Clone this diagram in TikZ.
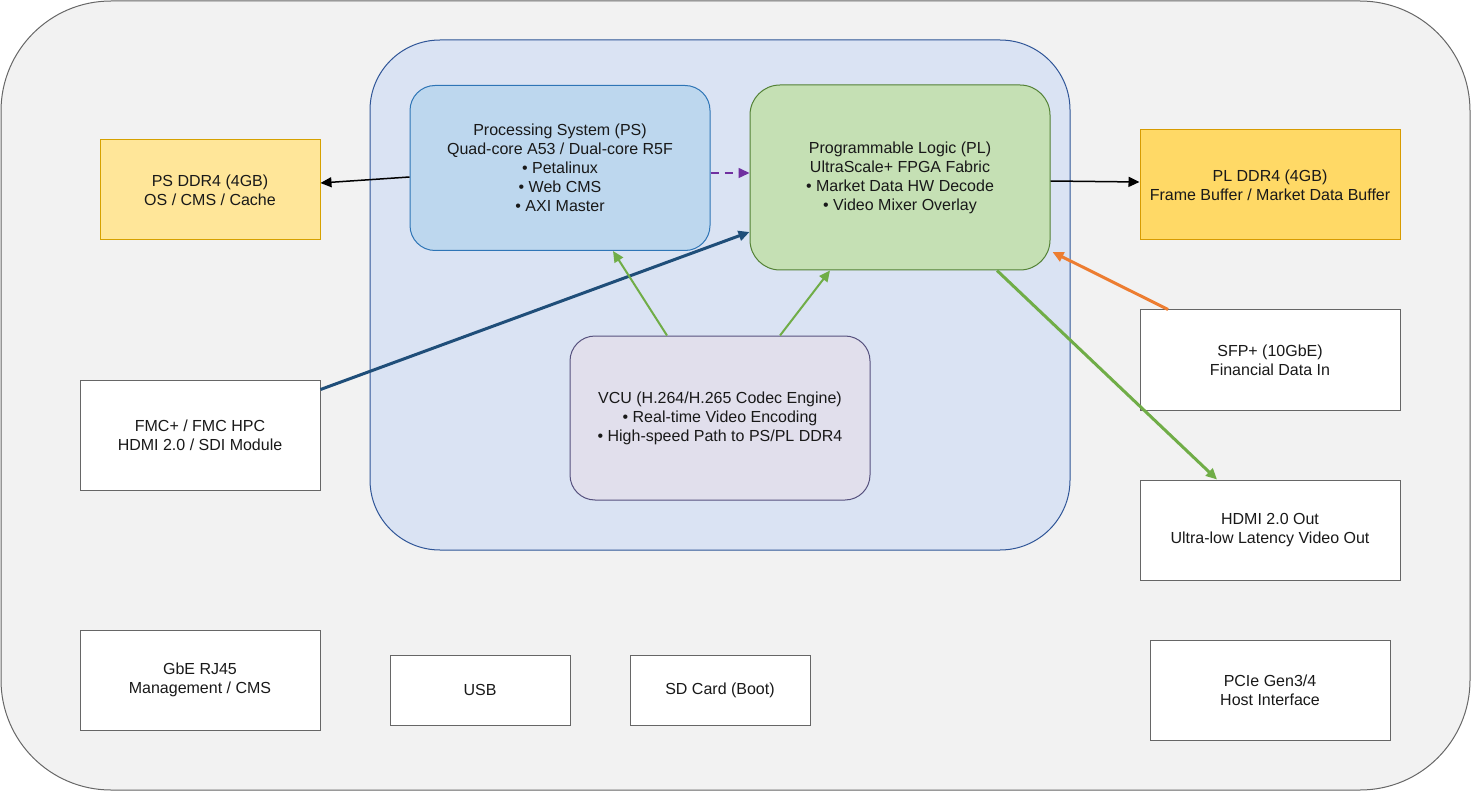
\documentclass[tikz,border=0pt]{standalone}
\usepackage{fontspec}
\setmainfont{Liberation Sans}
\usetikzlibrary{arrows.meta,calc}
\definecolor{bgfill}{HTML}{F2F2F2}
\definecolor{bgline}{HTML}{666666}
\definecolor{socfill}{HTML}{DAE3F3}
\definecolor{socline}{HTML}{2F5597}
\definecolor{psfill}{HTML}{BDD7EE}
\definecolor{psline}{HTML}{2E75B6}
\definecolor{plfill}{HTML}{C5E0B4}
\definecolor{plline}{HTML}{538135}
\definecolor{vcufill}{HTML}{E1DFEC}
\definecolor{vculine}{HTML}{56517E}
\definecolor{ddrfill}{HTML}{FFE699}
\definecolor{ddrline}{HTML}{D6A100}
\definecolor{pldfill}{HTML}{FFD966}
\definecolor{pldline}{HTML}{D79B00}
\definecolor{greenarr}{HTML}{70AD47}
\definecolor{bluearr}{HTML}{1F4E79}
\definecolor{orangearr}{HTML}{ED7D31}
\definecolor{purplearr}{HTML}{7030A0}
\tikzset{
  lbl/.style={align=center, font=\fontsize{16}{19}\selectfont, text=black!90},
  iobox/.style={lbl, draw=bgline, fill=white, line width=1pt, inner sep=0pt},
  blk/.style={lbl, line width=1pt, inner sep=0pt},
  tip/.style={-{Triangle[length=11pt,width=10pt]}},
}
\begin{document}
\begin{tikzpicture}[x=1pt,y=-1pt]
\useasboundingbox (0,0) rectangle (1471,791);
% outer board
\draw[draw=bgline, fill=bgfill, line width=1pt, rounded corners=110pt] (1,1) rectangle (1470,790);
% SoC container
\node[blk, draw=socline, fill=socfill, rounded corners=70pt, minimum width=700, minimum height=510] (soc) at (720,295) {};
% PS
\node[blk, draw=psline, fill=psfill, rounded corners=25pt, minimum width=300, minimum height=165] (ps) at (560,168) {Processing System (PS)\\Quad-core A53 / Dual-core R5F\\• Petalinux\\• Web CMS\\• AXI Master};
% PL
\node[blk, draw=plline, fill=plfill, rounded corners=30pt, minimum width=300, minimum height=185] (pl) at (900,177.5) {Programmable Logic (PL)\\UltraScale+ FPGA Fabric\\• Market Data HW Decode\\• Video Mixer Overlay};
% VCU
\node[blk, draw=vculine, fill=vcufill, rounded corners=25pt, minimum width=300, minimum height=164] (vcu) at (720,418) {VCU (H.264/H.265 Codec Engine)\\• Real-time Video Encoding\\• High-speed Path to PS/PL DDR4};
% memories
\node[blk, draw=ddrline, fill=ddrfill, minimum width=220, minimum height=100] (psddr) at (210,190) {PS DDR4 (4GB)\\OS / CMS / Cache};
\node[blk, draw=pldline, fill=pldfill, minimum width=260, minimum height=110] (plddr) at (1270,185) {PL DDR4 (4GB)\\Frame Buffer / Market Data Buffer};
% IO
\node[iobox, minimum width=260, minimum height=100] (sfp) at (1270,360) {SFP+ (10GbE)\\Financial Data In};
\node[iobox, minimum width=260, minimum height=100] (hdmi) at (1270,530) {HDMI 2.0 Out\\Ultra-low Latency Video Out};
\node[iobox, minimum width=240, minimum height=110] (fmc) at (200,435) {FMC+ / FMC HPC\\HDMI 2.0 / SDI Module};
\node[iobox, minimum width=240, minimum height=100] (gbe) at (200,680) {GbE RJ45\\Management / CMS};
\node[iobox, minimum width=180, minimum height=70] (usb) at (480,690) {USB};
\node[iobox, minimum width=180, minimum height=70] (sd) at (720,690) {SD Card (Boot)};
\node[iobox, minimum width=240, minimum height=100] (pcie) at (1270,690) {PCIe Gen3/4\\Host Interface};
% connectors
\draw[tip, line width=1.5pt, black] ($(ps.west)+(0,9)$) -- ($(psddr.east)+(0,-7)$);
\draw[tip, line width=1.5pt, purplearr, dashed, dash pattern=on 8pt off 6pt] ($(ps.east)+(0,5)$) -- ($(pl.west)+(0,-4.5)$);
\draw[tip, line width=1.5pt, black] ($(pl.east)+(0,3.5)$) -- ($(plddr.west)+(0,-3)$);
\draw[tip, line width=3pt, bluearr] ($(fmc.north east)+(0,10)$) -- ($(pl.west)+(0,54.5)$);
\draw[tip, line width=2pt, greenarr] ($(vcu.north)+(-53,0)$) -- ($(ps.south)+(53,0)$);
\draw[tip, line width=2pt, greenarr] ($(vcu.north)+(60,0)$) -- ($(pl.south)+(-70,0)$);
\draw[tip, line width=3pt, orangearr] ($(sfp.north)+(-102,0)$) -- ($(pl.east)+(2,74.5)$);
\draw[tip, line width=3pt, greenarr] ($(pl.south)+(97,0)$) -- ($(hdmi.north)+(-53,0)$);
\end{tikzpicture}
\end{document}
